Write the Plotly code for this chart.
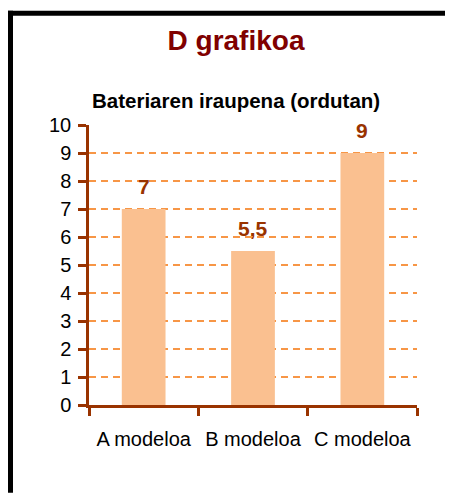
import plotly.graph_objects as go

categories = ["A modeloa", "B modeloa", "C modeloa"]
values = [7, 5.5, 9]
value_labels = ["7", "5,5", "9"]
y_ticks = list(range(0, 11))

PAGE_W, PAGE_H = 453, 493
OFF = 8  # page body margin offset
W, H = PAGE_W - OFF, PAGE_H - OFF
L, T = 89 - OFF, 124.5 - OFF
R = W - (417 - OFF)
B = H - (405 - OFF)
pw, ph = W - L - R, H - T - B

axis_col = "#993300"
grid_col = "#F79646"
font = "Liberation Sans, Arial, sans-serif"

fig = go.Figure()
fig.add_trace(go.Bar(
    x=categories, y=values, width=0.4,
    marker=dict(color="#FAC090", line=dict(width=0)),
    hoverinfo="skip",
))

for c, v, t in zip(categories, values, value_labels):
    fig.add_annotation(x=c, y=v, text="<b>%s</b>" % t, showarrow=False,
                       yanchor="middle", yshift=23,
                       font=dict(family=font, size=21, color=axis_col))

def px2x(px):
    return (px - OFF - L) / pw

def py2y(py):
    return (H - B - (py - OFF)) / ph

# frame
fig.add_shape(type="line", xref="paper", yref="paper",
              x0=px2x(8), x1=px2x(PAGE_W), y0=py2y(12.5), y1=py2y(12.5),
              line=dict(color="black", width=5))
fig.add_shape(type="line", xref="paper", yref="paper",
              x0=px2x(10.5), x1=px2x(10.5), y0=py2y(10), y1=py2y(PAGE_H),
              line=dict(color="black", width=5))

fig.add_annotation(xref="paper", yref="paper", x=px2x(236), y=py2y(100),
                   text="<b>Bateriaren iraupena (ordutan)</b>", showarrow=False,
                   xanchor="center", yanchor="middle",
                   font=dict(family=font, size=20.5, color="black"))

fig.update_layout(
    width=W, height=H,
    margin=dict(l=L, r=R, t=T, b=B, pad=0),
    paper_bgcolor="white", plot_bgcolor="white",
    showlegend=False,
    title=dict(text="<b>D grafikoa</b>", x=(236 - OFF) / W, xanchor="center",
               y=1 - (40.5 - OFF) / H, yanchor="middle", yref="container",
               font=dict(family=font, size=28, color="#800000")),
    xaxis=dict(
        showline=True, linecolor=axis_col, linewidth=2.5,
        ticks="outside", ticklen=8, tickwidth=2.5, tickcolor=axis_col,
        tickson="boundaries", showgrid=False,
        tickfont=dict(family=font, size=20, color="black"),
        ticklabelstandoff=14,
    ),
    yaxis=dict(
        range=[0, 10], tickvals=y_ticks, ticktext=[str(v) for v in y_ticks],
        showline=True, linecolor=axis_col, linewidth=2.5,
        ticks="outside", ticklen=8, tickwidth=2.5, tickcolor=axis_col,
        showgrid=True, gridcolor=grid_col, gridwidth=1.5, griddash="7px,5px",
        zeroline=False,
        tickfont=dict(family=font, size=20, color="black"),
        ticklabelstandoff=3,
    ),
)

fig.write_html("out.html", config={"displayModeBar": False})
